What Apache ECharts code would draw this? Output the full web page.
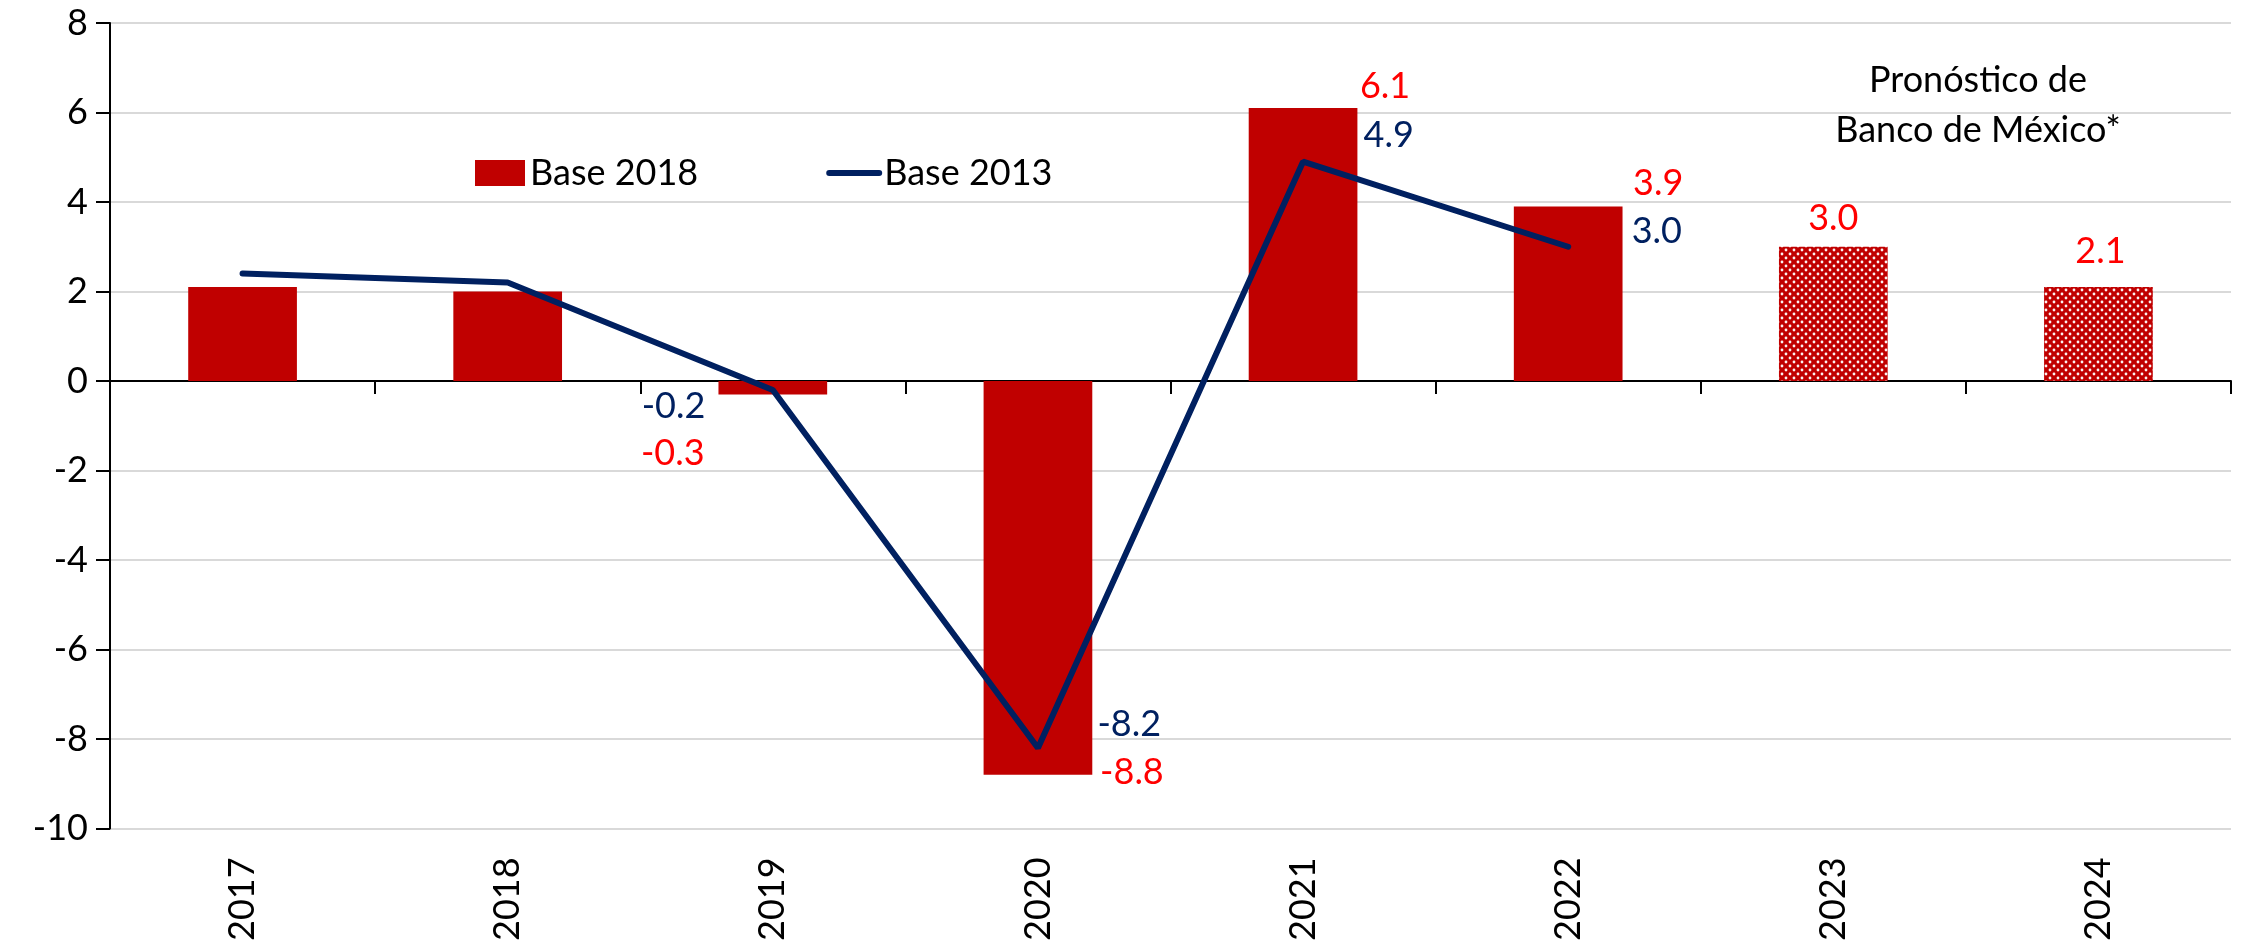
<!DOCTYPE html>
<html>
<head>
<meta charset="utf-8">
<script src="https://cdn.jsdelivr.net/npm/echarts@6/dist/echarts.min.js"></script>
<style>
  html, body { margin: 0; padding: 0; background: #fff; }
  #chart { width: 2249px; height: 944px; }
</style>
</head>
<body>
<div id="chart"></div>
<script>
// data
const years = ['2017', '2018', '2019', '2020', '2021', '2022', '2023', '2024'];
const base2018 = [2.1, 2.0, -0.3, -8.8, 6.1, 3.9, 3.0, 2.1];
const base2013 = [2.4, 2.2, -0.2, -8.2, 4.9, 3.0, null, null];
const forecastYears = ['2023', '2024'];
const yTicks = { min: -10, max: 8, step: 2 };
const noteText = 'Pronóstico de\nBanco de México*';

const FONT = 'Lato';
const RED = '#C00000';
const NAVY = '#002060';

// dotted fill for the forecast bars
function dotPattern() {
  let c = document.createElement('canvas');
  c.width = 8; c.height = 8;
  let ctx = c.getContext('2d');
  ctx.fillStyle = RED;
  ctx.fillRect(0, 0, 8, 8);
  ctx.fillStyle = 'rgba(255,255,255,0.95)';
  ctx.beginPath(); ctx.arc(2, 2, 1.4, 0, Math.PI * 2); ctx.fill();
  ctx.beginPath(); ctx.arc(6, 6, 1.4, 0, Math.PI * 2); ctx.fill();
  return { image: c, repeat: 'repeat' };
}

// label placement (style only, keyed by year)
const barLabelPlace = {
  '2019': { offset: [-100, 36] },
  '2020': { offset: [94, -25] },
  '2021': { offset: [82, 1] },
  '2022': { offset: [90, 0] },
  '2023': { offset: [0, -5] },
  '2024': { offset: [2, -13] }
};
const lineLabelPlace = {
  '2019': { position: 'left', offset: [-62, 16] },
  '2020': { position: 'right', offset: [54, -24] },
  '2021': { position: 'right', offset: [55, -26] },
  '2022': { position: 'right', offset: [58, -15] }
};

const labelFont = { fontFamily: FONT, fontSize: 36 };
const pattern = dotPattern();

const barData = base2018.map((v, i) => {
  let yr = years[i];
  let item = { value: v };
  if (forecastYears.indexOf(yr) >= 0) item.itemStyle = { color: pattern };
  if (barLabelPlace[yr]) {
    item.label = Object.assign({ show: true, position: 'outside', color: '#FF0000',
      formatter: (p) => p.value.toFixed(1) }, labelFont, barLabelPlace[yr]);
  }
  return item;
});

const lineData = base2013.map((v, i) => {
  let yr = years[i];
  let item = { value: v };
  if (lineLabelPlace[yr]) {
    item.label = Object.assign({ show: true, color: NAVY,
      formatter: (p) => p.value.toFixed(1) }, labelFont, lineLabelPlace[yr]);
  }
  return item;
});

let chart = echarts.init(document.getElementById('chart'));
chart.setOption({
  animation: false,
  textStyle: { fontFamily: FONT },
  title: {
    text: noteText,
    left: 1973,
    top: 50,
    textAlign: 'center',
    textStyle: { fontFamily: FONT, fontSize: 36, fontWeight: 'normal', color: '#000', lineHeight: 50 }
  },
  legend: {
    left: 470,
    top: 150,
    itemWidth: 50,
    itemHeight: 26,
    itemGap: 128,
    textStyle: { fontFamily: FONT, fontSize: 36, color: '#000' },
    data: [
      { name: 'Base 2018', icon: 'rect' },
      { name: 'Base 2013', itemStyle: { opacity: 0 }, lineStyle: { width: 6, cap: 'round' } }
    ]
  },
  grid: { left: 110, right: 18, top: 23, bottom: 115, containLabel: false },
  xAxis: [
    {
      type: 'category',
      data: years,
      boundaryGap: true,
      axisLine: { onZero: true, lineStyle: { color: '#000', width: 2 } },
      axisTick: { show: true, length: 13, lineStyle: { color: '#000', width: 2 } },
      axisLabel: { show: false },
      splitLine: { show: false }
    },
    {
      type: 'category',
      data: years,
      position: 'bottom',
      axisLine: { show: false, onZero: false },
      axisTick: { show: false },
      axisLabel: { rotate: 90, margin: 29, fontFamily: FONT, fontSize: 36, color: '#000' }
    }
  ],
  yAxis: {
    type: 'value',
    min: yTicks.min,
    max: yTicks.max,
    interval: yTicks.step,
    axisLine: { show: true, lineStyle: { color: '#000', width: 2 } },
    axisTick: { show: true, length: 14, lineStyle: { color: '#000', width: 2 } },
    axisLabel: { margin: 22, fontFamily: FONT, fontSize: 36, color: '#000' },
    splitLine: { lineStyle: { color: '#d9d9d9', width: 2 } }
  },
  series: [
    {
      name: 'Base 2018',
      type: 'bar',
      barWidth: '41%',
      itemStyle: { color: RED },
      data: barData
    },
    {
      name: 'Base 2013',
      type: 'line',
      symbol: 'circle',
      symbolSize: 1,
      z: 5,
      itemStyle: { color: NAVY },
      lineStyle: { color: NAVY, width: 6, cap: 'round' },
      data: lineData
    }
  ]
});
</script>
</body>
</html>
